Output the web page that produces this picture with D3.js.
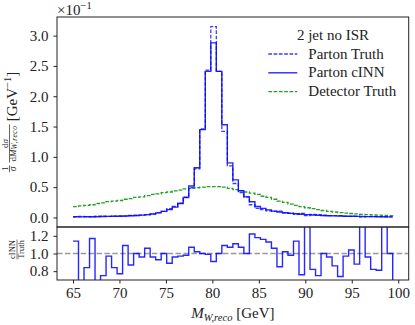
<!DOCTYPE html>
<head>
  <meta charset="utf-8">
  <script src="https://d3js.org/d3.v7.min.js"></script>
  <style>
    body { margin: 0; background: #fff; }
    text { font-family: "Liberation Serif", "DejaVu Serif", serif; fill: #222; }
  </style>
</head>
<body>
<div id="vis"></div>
<script>
// histogram binning (edges at 65 + i*35/59, drawn as post-steps)
const binLo = 65, binHi = 100, nBins = 59;

const partonTruth = [
  0.011, 0.016, 0.014, 0.010, 0.022, 0.020, 0.018, 0.023, 0.027, 0.022,
  0.032, 0.032, 0.040, 0.043, 0.058, 0.081, 0.101, 0.146, 0.181, 0.237,
  0.337, 0.49, 0.80, 1.46, 2.43, 3.15, 2.41, 1.42, 0.85, 0.56,
  0.41, 0.34, 0.21, 0.15, 0.13, 0.11, 0.099, 0.106, 0.076, 0.069,
  0.052, 0.068, 0.032, 0.050, 0.048, 0.032, 0.030, 0.030, 0.031, 0.021,
  0.018, 0.020, 0.011, 0.014, 0.016, 0.015, 0.008, 0.010, 0.010
];
const partonCinn = [
  0.012, 0.010, 0.012, 0.012, 0.012, 0.015, 0.017, 0.019, 0.021, 0.024,
  0.028, 0.032, 0.038, 0.046, 0.056, 0.075, 0.100, 0.130, 0.170, 0.230,
  0.33, 0.52, 0.82, 1.45, 2.41, 2.88, 2.41, 1.53, 0.90, 0.62,
  0.44, 0.34, 0.26, 0.18, 0.15, 0.125, 0.105, 0.090, 0.078, 0.068,
  0.060, 0.052, 0.046, 0.041, 0.036, 0.032, 0.029, 0.026, 0.023, 0.021,
  0.019, 0.017, 0.016, 0.014, 0.013, 0.012, 0.011, 0.010, 0.010
];
const detectorTruth = [
  0.18, 0.19, 0.20, 0.21, 0.23, 0.24, 0.26, 0.27, 0.28, 0.30,
  0.31, 0.33, 0.34, 0.36, 0.38, 0.39, 0.41, 0.42, 0.44, 0.45,
  0.47, 0.48, 0.49, 0.50, 0.51, 0.51, 0.51, 0.50, 0.48, 0.46,
  0.44, 0.42, 0.40, 0.38, 0.35, 0.33, 0.30, 0.27, 0.25, 0.22,
  0.20, 0.18, 0.16, 0.145, 0.13, 0.115, 0.10, 0.09, 0.08, 0.072,
  0.065, 0.058, 0.052, 0.047, 0.042, 0.038, 0.034, 0.031, 0.030
];
const ratioCinnTruth = [
  1.14, 0.60, 0.84, 1.17, 0.60, 0.75, 0.97, 0.84, 0.77, 1.09,
  0.87, 1.00, 0.96, 1.06, 0.96, 0.93, 1.00, 0.89, 0.96, 0.97,
  0.98, 1.07, 1.02, 1.00, 0.99, 0.91, 1.00, 1.09, 1.07, 1.11,
  1.07, 1.00, 1.22, 1.18, 1.16, 1.13, 1.06, 0.85, 1.02, 0.98,
  1.14, 0.76, 1.40, 0.82, 0.75, 1.00, 0.96, 0.86, 0.74, 0.97,
  1.04, 0.88, 1.40, 0.96, 0.82, 0.81, 1.40, 1.00, 0.00
];

const xTicks = [65, 70, 75, 80, 85, 90, 95, 100];
const yTicks = [0.0, 0.5, 1.0, 1.5, 2.0, 2.5, 3.0];
const ratioTicks = [0.8, 1.0, 1.2];
const legendTitle = '2 jet no ISR';
const seriesNames = ['Parton Truth', 'Parton cINN', 'Detector Truth'];

const width = 415, height = 325;
const pL = 57, pR = 408.7, pT = 17, mainB = 227, ratioB = 280;
const blue = '#0000ff', truthBlue = '#3c3cff', green = '#22a022', frameCol = '#222';

const edges = d3.range(nBins).map(i => binLo + i * (binHi - binLo) / nBins);
const xPad = 0.05 * (edges[nBins - 1] - edges[0]);
const x = d3.scaleLinear()
  .domain([edges[0] - xPad, edges[nBins - 1] + xPad])
  .range([pL, pR]);
const yMax = d3.max(partonTruth);
const y = d3.scaleLinear()
  .domain([-0.05 * yMax, 1.05 * yMax])
  .range([mainB, pT]);
const yr = d3.scaleLinear().domain([0.7, 1.3]).range([ratioB, mainB]);

const svg = d3.select('#vis').append('svg')
  .attr('width', width).attr('height', height);

svg.append('clipPath').attr('id', 'clipMain').append('rect')
  .attr('x', pL).attr('y', pT).attr('width', pR - pL).attr('height', mainB - pT);
svg.append('clipPath').attr('id', 'clipRatio').append('rect')
  .attr('x', pL).attr('y', mainB).attr('width', pR - pL).attr('height', ratioB - mainB);

function stepLine(yScale) {
  return d3.line().curve(d3.curveStepAfter).x(d => x(d[0])).y(d => yScale(d[1]));
}
const pts = vals => edges.map((e, i) => [e, vals[i]]);

// main panel
const main = svg.append('g').attr('clip-path', 'url(#clipMain)');
main.append('path').datum(pts(detectorTruth))
  .attr('d', stepLine(y)).attr('fill', 'none')
  .attr('stroke', green).attr('stroke-width', 1.3).attr('stroke-dasharray', '3.7,1.6');
main.append('path').datum(pts(partonTruth))
  .attr('d', stepLine(y)).attr('fill', 'none')
  .attr('stroke', truthBlue).attr('stroke-width', 1.3).attr('stroke-dasharray', '3.7,1.6');
main.append('path').datum(pts(partonCinn))
  .attr('d', stepLine(y)).attr('fill', 'none')
  .attr('stroke', blue).attr('stroke-width', 1.4).attr('stroke-opacity', 0.85);

// ratio panel
const rat = svg.append('g').attr('clip-path', 'url(#clipRatio)');
rat.append('line')
  .attr('x1', pL).attr('x2', pR).attr('y1', yr(1)).attr('y2', yr(1))
  .attr('stroke', '#999').attr('stroke-width', 1.3).attr('stroke-dasharray', '5.5,2.4');
rat.append('path').datum(pts(ratioCinnTruth))
  .attr('d', stepLine(yr)).attr('fill', 'none')
  .attr('stroke', blue).attr('stroke-width', 1.4).attr('stroke-opacity', 0.85);

// frames
[[pT, mainB], [mainB, ratioB]].forEach(([t, b]) => {
  svg.append('rect').attr('x', pL).attr('y', t)
    .attr('width', pR - pL).attr('height', b - t)
    .attr('fill', 'none').attr('stroke', frameCol).attr('stroke-width', 1);
});

// axes
function styleAxis(g) {
  g.select('.domain').remove();
  g.selectAll('line').attr('stroke', frameCol);
  g.selectAll('text').attr('font-size', 15).attr('font-family', '"Liberation Serif", serif').attr('fill', '#222');
}
svg.append('g').attr('transform', `translate(${pL},0)`)
  .call(d3.axisLeft(y).tickValues(yTicks).tickFormat(d3.format('.1f')).tickSize(3.5).tickPadding(5))
  .call(styleAxis);
svg.append('g').attr('transform', `translate(${pL},0)`)
  .call(d3.axisLeft(yr).tickValues(ratioTicks).tickFormat(d3.format('.1f')).tickSize(3.5).tickPadding(5))
  .call(styleAxis);
svg.append('g').attr('transform', `translate(0,${ratioB})`)
  .call(d3.axisBottom(x).tickValues(xTicks).tickFormat(d3.format('d')).tickSize(3.5).tickPadding(3.5))
  .call(styleAxis);

const len = s => s.node().getComputedTextLength();

// offset text x10^-1
const off = svg.append('text').attr('x', pL).attr('y', 15).attr('font-size', 15);
off.append('tspan').text('\u00d710');
off.append('tspan').attr('dy', -6).attr('font-size', 10.5).text('\u22121');

// x label, centred by measuring
const xl = svg.append('text').attr('y', 318).attr('font-size', 15);
xl.append('tspan').attr('font-style', 'italic').text('M');
xl.append('tspan').attr('font-style', 'italic').attr('font-size', 10.5).attr('dy', 3).text('W,reco');
xl.append('tspan').attr('dy', -3).text('\u00a0[GeV]');
xl.attr('x', (pL + pR) / 2 - len(xl) / 2);

// main y label: 1/σ dσ/dM_{W,reco} [GeV^-1]
const yl = svg.append('g').attr('transform', 'translate(16.5,122) rotate(-90)');
function piece(g, size, ly) {
  return g.append('text').attr('font-size', size).attr('y', ly);
}
const n1 = piece(yl, 8, -8.6).text('1');
const d1 = piece(yl, 9.5, -0.6); d1.append('tspan').attr('font-style', 'italic').text('\u03c3');
const n2 = piece(yl, 9, -8.6); n2.append('tspan').text('d'); n2.append('tspan').attr('font-style', 'italic').text('\u03c3');
const d2 = piece(yl, 9, -0.6);
d2.append('tspan').text('d');
d2.append('tspan').attr('font-style', 'italic').text('M');
d2.append('tspan').attr('font-style', 'italic').attr('font-size', 7.5).attr('dy', 1.5).attr('letter-spacing', 0.6).text('W,reco');
const un = yl.append('text').attr('font-size', 15).attr('y', 0);
un.append('tspan').text('[GeV');
un.append('tspan').attr('font-size', 10.5).attr('dy', -6).text('\u22121');
un.append('tspan').attr('dy', 6).text(']');

const w1 = Math.max(len(n1), len(d1)) + 2;
const w2 = Math.max(len(n2), len(d2)) + 2;
const w3 = len(un);
const gap = 3;
const total = w1 + gap + w2 + gap + w3;
let cx = -total / 2;
n1.attr('x', cx + (w1 - len(n1)) / 2); d1.attr('x', cx + (w1 - len(d1)) / 2);
yl.append('line').attr('x1', cx).attr('x2', cx + w1).attr('y1', -7).attr('y2', -7)
  .attr('stroke', '#222').attr('stroke-width', 0.7);
cx += w1 + gap;
n2.attr('x', cx + (w2 - len(n2)) / 2); d2.attr('x', cx + (w2 - len(d2)) / 2);
yl.append('line').attr('x1', cx).attr('x2', cx + w2).attr('y1', -7).attr('y2', -7)
  .attr('stroke', '#222').attr('stroke-width', 0.7);
cx += w2 + gap;
un.attr('x', cx);

// ratio y label: cINN / Truth
const rl = svg.append('g').attr('transform', `translate(24,${(mainB + ratioB) / 2 - 4}) rotate(-90)`);
const rn = piece(rl, 8.5, -9).text('cINN');
const rd = piece(rl, 8.5, 0).text('Truth');
const rw = Math.max(len(rn), len(rd)) + 1;
rn.attr('x', -len(rn) / 2); rd.attr('x', -len(rd) / 2);
rl.append('line').attr('x1', -rw / 2).attr('x2', rw / 2).attr('y1', -7).attr('y2', -7)
  .attr('stroke', '#222').attr('stroke-width', 0.6);

// legend
const lg = svg.append('g');
lg.append('text').attr('x', 333).attr('y', 39.5).attr('text-anchor', 'middle')
  .attr('font-size', 15).text(legendTitle);
const legendStyle = [
  { col: truthBlue, dash: '3.7,1.6', op: 1 },
  { col: blue, dash: null, op: 0.85 },
  { col: green, dash: '3.7,1.6', op: 1 }
];
seriesNames.forEach((name, i) => {
  const ly = 54 + i * 18.8;
  lg.append('line').attr('x1', 268.3).attr('x2', 297.3).attr('y1', ly).attr('y2', ly)
    .attr('stroke', legendStyle[i].col).attr('stroke-width', 1.4)
    .attr('stroke-opacity', legendStyle[i].op)
    .attr('stroke-dasharray', legendStyle[i].dash);
  lg.append('text').attr('x', 308.3).attr('y', ly + 4.6).attr('font-size', 15).text(name);
});
</script>
</body>
